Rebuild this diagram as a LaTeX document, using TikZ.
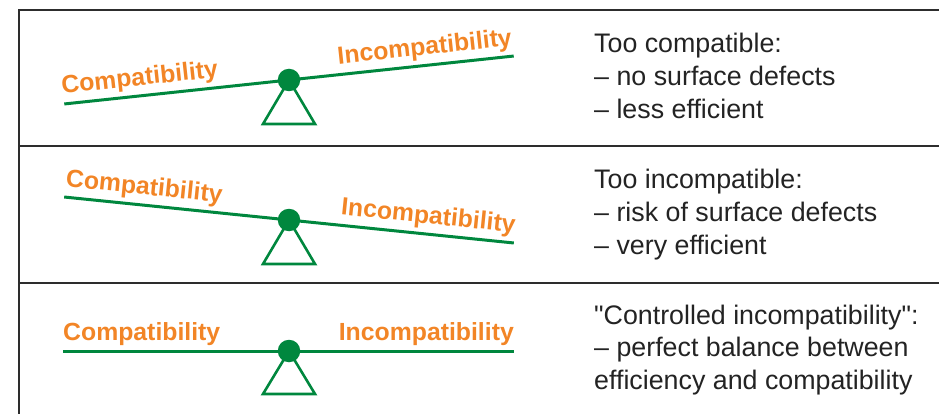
\documentclass[tikz,border=0pt]{standalone}
\usepackage{fontspec}
\setmainfont{Liberation Sans}
\newfontfamily\descfont{Liberation Sans}
\definecolor{sgreen}{RGB}{0,135,62}
\definecolor{sorange}{RGB}{242,133,38}
\definecolor{framegray}{RGB}{45,45,45}
\definecolor{txtgray}{RGB}{35,35,35}
\begin{document}
\begin{tikzpicture}[x=1pt,y=-1pt,
  framel/.style={draw=framegray, line width=1.6pt},
  beam/.style={draw=sgreen, line width=3pt},
  pivot/.style={circle, fill=sgreen, minimum size=22.5pt, inner sep=0pt},
  stand/.style={draw=sgreen, line width=2.6pt, line join=miter},
  lbl/.style={text=sorange, font=\fontsize{24.8}{28}\selectfont\bfseries, inner sep=0pt},
  desc/.style={text=txtgray, font=\descfont\fontsize{26.8}{30}\selectfont, inner sep=0pt, anchor=base west}]
\useasboundingbox (0,0) rectangle (939,414);
% frame
\draw[framel] (939,10) -- (19,10) -- (19,414);
\draw[framel] (19,146) -- (939,146);
\draw[framel] (19,283) -- (939,283);
% row 1
\begin{scope}[shift={(289,80)}]
  \coordinate (p1) at (0,0);
  \draw[stand] (p1) -- (-26,44) -- (26,44) -- cycle;
  \begin{scope}[rotate=6.09]
    \coordinate (l1) at (-226,0);
    \coordinate (r1) at (226,0);
    \draw[beam] (l1) -- (r1);
    \node[lbl, anchor=base west, rotate=6.09] (c1) at (-227,-10.5) {Compatibility};
    \node[lbl, anchor=base east, rotate=6.09] (i1) at (226,-10.5) {Incompatibility};
  \end{scope}
  \node[pivot] (f1) at (p1) {};
\end{scope}
% row 2
\begin{scope}[shift={(289,220)}]
  \coordinate (p2) at (0,0);
  \draw[stand] (p2) -- (-26,44) -- (26,44) -- cycle;
  \begin{scope}[rotate=-5.84]
    \coordinate (l2) at (-226,0);
    \coordinate (r2) at (226,0);
    \draw[beam] (l2) -- (r2);
    \node[lbl, anchor=base west, rotate=-5.84] (c2) at (-226,-10.5) {Compatibility};
    \node[lbl, anchor=base east, rotate=-5.84] (i2) at (226,-10.5) {Incompatibility};
  \end{scope}
  \node[pivot] (f2) at (p2) {};
\end{scope}
% row 3
\begin{scope}[shift={(289,351)}]
  \coordinate (p3) at (0,0);
  \draw[stand] (p3) -- (-26,43) -- (26,43) -- cycle;
  \coordinate (l3) at (-226,0);
  \coordinate (r3) at (225,0);
  \draw[beam] (l3) -- (r3);
  \node[lbl, anchor=base west] (c3) at (-226,-10.5) {Compatibility};
  \node[lbl, anchor=base east] (i3) at (225,-10.5) {Incompatibility};
  \node[pivot] (f3) at (p3) {};
\end{scope}
% descriptions
\node[desc] (d1a) at (594,53) {Too compatible:};
\node[desc] (d1b) at (594,86) {– no surface defects};
\node[desc] (d1c) at (594,119) {– less efficient};
\node[desc] (d2a) at (594,189) {Too incompatible:};
\node[desc] (d2b) at (594,221.5) {– risk of surface defects};
\node[desc] (d2c) at (594,254) {– very efficient};
\node[desc] (d3a) at (594,324) {"Controlled incompatibility":};
\node[desc] (d3b) at (594,356.5) {– perfect balance between};
\node[desc] (d3c) at (594,389) {efficiency and compatibility};
\end{tikzpicture}
\end{document}
